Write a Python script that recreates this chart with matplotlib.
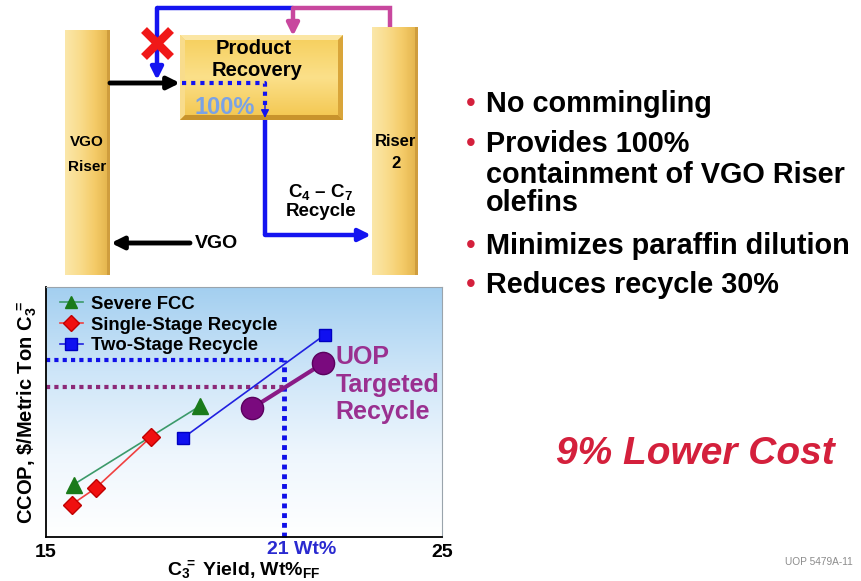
import numpy as np
import matplotlib
matplotlib.use("Agg")
import matplotlib.pyplot as plt
from matplotlib.patches import Rectangle, Polygon, FancyArrowPatch
from matplotlib.colors import LinearSegmentedColormap

plt.rcParams['font.family'] = ['Liberation Sans', 'DejaVu Sans']
plt.rcParams['mathtext.fontset'] = 'custom'
plt.rcParams['mathtext.rm'] = 'Liberation Sans:bold'
plt.rcParams['mathtext.bf'] = 'Liberation Sans:bold'
plt.rcParams['mathtext.it'] = 'Liberation Sans:bold:italic'
plt.rcParams['mathtext.sf'] = 'Liberation Sans:bold'

# ---- chart data: C3= yield (wt% FF) vs CCOP ($/metric ton C3=, arbitrary scale) ----
severe_x = [15.7, 18.9]
severe_y = [21, 52.5]
single_x = [15.65, 16.25, 17.65]
single_y = [13, 19.5, 40]
two_x = [18.45, 22.05]
two_y = [39.5, 81]
uop_x = [20.2, 22.0]
uop_y = [51.5, 69.5]
target_yield = 21
two_stage_cost_at_target = 70.8
uop_cost_at_target = 60.2
x_ticks = [15, 25]

uop_label = ["UOP", "Targeted", "Recycle"]
bullets = [["No commingling"],
           ["Provides 100%", "containment of VGO Riser", "olefins"],
           ["Minimizes paraffin dilution"],
           ["Reduces recycle 30%"]]

W, H = 862, 581
fig = plt.figure(figsize=(W / 100, H / 100), dpi=100)
fig.patch.set_facecolor("white")

# full-figure canvas in pixel coordinates for the flow scheme and slide text
ax0 = fig.add_axes([0, 0, 1, 1])
ax0.set_xlim(0, W)
ax0.set_ylim(H, 0)
ax0.axis("off")

gold = LinearSegmentedColormap.from_list("gold", ["#fbe7aa", "#f9dc8c", "#f4cb68", "#e2b24a"])


def gold_column(x0, y0, x1, y1):
    grad = np.linspace(0, 1, 64)[None, :]
    ax0.imshow(grad, cmap=gold, extent=(x0, x1, y1, y0), aspect="auto", zorder=1,
               interpolation="bilinear")
    ax0.add_patch(Rectangle((x1 - 3, y0), 3, y1 - y0, color="#cf9d3e", zorder=2, lw=0))


gold_column(65, 30, 110, 275)
gold_column(372, 27, 418, 275)

# Product Recovery box with bevelled frame
bx0, by0, bx1, by1, b = 180, 35, 343, 120, 5
grad = np.linspace(0, 1, 64)[:, None]
box_cmap = LinearSegmentedColormap.from_list("box", ["#f6cf5c", "#fbe08a", "#f3c64e"])
ax0.imshow(grad, cmap=box_cmap, extent=(bx0, bx1, by1, by0), aspect="auto", zorder=1,
           interpolation="bilinear")
ax0.add_patch(Polygon([(bx0, by0), (bx1, by0), (bx1 - b, by0 + b), (bx0 + b, by0 + b)],
                      color="#fbe6a4", lw=0, zorder=2))
ax0.add_patch(Polygon([(bx0, by0), (bx0 + b, by0 + b), (bx0 + b, by1 - b), (bx0, by1)],
                      color="#f8dc8c", lw=0, zorder=2))
ax0.add_patch(Polygon([(bx1, by0), (bx1, by1), (bx1 - b, by1 - b), (bx1 - b, by0 + b)],
                      color="#d9a53a", lw=0, zorder=2))
ax0.add_patch(Polygon([(bx0, by1), (bx1, by1), (bx1 - b, by1 - b), (bx0 + b, by1 - b)],
                      color="#c8932c", lw=0, zorder=2))

blue = "#1414f0"
pink = "#c8479e"


def arrow(pts, color, lw=3.2):
    xs, ys = zip(*pts)
    ax0.plot(xs[:-1], ys[:-1], color=color, lw=lw, zorder=3,
             solid_joinstyle="miter", solid_capstyle="butt")
    ax0.add_patch(FancyArrowPatch(pts[-2], pts[-1], arrowstyle="-|>", mutation_scale=18,
                                  color=color, lw=lw, shrinkA=0, shrinkB=0, zorder=3))


# recycle loops above the box
arrow([(293, 8), (157, 8), (157, 80)], blue)
arrow([(390, 27), (390, 8), (293, 8), (293, 36)], pink)
# red cross over the blocked route
ax0.plot([144, 171], [30, 57], color="#f01818", lw=6, solid_capstyle="butt", zorder=4)
ax0.plot([144, 171], [57, 30], color="#f01818", lw=6, solid_capstyle="butt", zorder=4)
# VGO riser effluent into product recovery
arrow([(110, 83), (180, 83)], "black", lw=3.5)
# dotted internal routing
ax0.plot([182, 265, 265], [83, 83, 106], color=blue, lw=3, ls=(0, (1, 1.2)), zorder=3)
ax0.add_patch(FancyArrowPatch((265, 104), (265, 118), arrowstyle="-|>", mutation_scale=12,
                              color=blue, lw=1, shrinkA=0, shrinkB=0, zorder=3))
ax0.text(225, 108, "100%", color="#7aa2e6", fontsize=17, fontweight="bold",
         ha="center", va="center", zorder=4)
# C4-C7 recycle to riser 2
arrow([(265, 120), (265, 235), (371, 235)], blue)
# VGO feed
arrow([(190, 243), (111, 243)], "black", lw=3.5)

ax0.text(254, 48, "Product", fontsize=14.5, fontweight="bold", ha="center", va="center", zorder=4)
ax0.text(257, 71, "Recovery", fontsize=14.5, fontweight="bold", ha="center", va="center", zorder=4)
ax0.text(87, 142, "VGO", fontsize=11, fontweight="bold", ha="center", va="center", zorder=4)
ax0.text(87, 167, "Riser", fontsize=11, fontweight="bold", ha="center", va="center", zorder=4)
ax0.text(396, 142, "Riser", fontsize=12, fontweight="bold", ha="center", va="center", zorder=4)
ax0.text(396, 164, "2", fontsize=12, fontweight="bold", ha="center", va="center", zorder=4)
ax0.text(320, 197, "C$_4$ – C$_7$", fontsize=13.5, fontweight="bold", ha="center",
         va="baseline", zorder=4)
ax0.text(321, 216, "Recycle", fontsize=13.5, fontweight="bold", ha="center", va="baseline",
         zorder=4)
ax0.text(195, 243, "VGO", fontsize=14, fontweight="bold", ha="left", va="center", zorder=4)

# bullet list
red = "#d4203c"
baselines = [[112], [152, 183, 211], [254], [293]]
for lines, ys in zip(bullets, baselines):
    ax0.text(466, ys[0] - 1, "•", color=red, fontsize=20, ha="left", va="baseline")
    for txt, yb in zip(lines, ys):
        ax0.text(486, yb, txt, fontsize=20.8, fontweight="bold", ha="left", va="baseline")

ax0.text(556, 454, "9% Lower Cost", color=red, fontsize=28, fontweight="bold",
         fontstyle="italic", ha="left", va="center")
ax0.text(853, 562, "UOP 5479A-11", color="#8c8c8c", fontsize=7.3, ha="right", va="center")

# ---- chart ----
ax = fig.add_axes([46 / W, (H - 537) / H, 396 / W, 250 / H])
ax.set_xlim(15, 25)
ax.set_ylim(0, 100)

bg = LinearSegmentedColormap.from_list("sky", ["#ffffff", "#eef6fd", "#cde5f8", "#a3cff0"])
ax.imshow(np.linspace(0, 1, 256)[:, None], cmap=bg, extent=(15, 25, 0, 100), origin="lower",
          aspect="auto", zorder=0, interpolation="bilinear")

ax.plot(severe_x, severe_y, color="#3c9a6a", lw=1.2, marker="^", ms=11,
        mfc="#1a7a1a", mec="#1a7a1a", zorder=3, label="Severe FCC")
ax.plot(single_x, single_y, color="#f04040", lw=1.2, marker="D", ms=9,
        mfc="#f01010", mec="#c00000", zorder=3, label="Single-Stage Recycle")
ax.plot(two_x, two_y, color="#2020e0", lw=1.2, marker="s", ms=8,
        mfc="#1010f0", mec="#0000c0", zorder=3, label="Two-Stage Recycle")
ax.plot(uop_x, uop_y, color="#8a1a86", lw=3, marker="o", ms=16,
        mfc="#7a0a7e", mec="#5a005e", zorder=4)

ax.plot([15, target_yield], [two_stage_cost_at_target] * 2, color="#1010e8", lw=3,
        ls=(0, (1, 1)), zorder=2)
ax.plot([15, target_yield], [uop_cost_at_target] * 2, color="#8c2a78", lw=3,
        ls=(0, (1, 1)), zorder=2)
ax.plot([target_yield] * 2, [0, two_stage_cost_at_target], color="#1010e8", lw=3.5,
        ls=(0, (1, 1)), zorder=2, clip_on=False)

for txt, yy in zip(uop_label, [72, 60.8, 50]):
    ax.text(22.32, yy, txt, color="#9a3090", fontsize=18, fontweight="bold",
            ha="left", va="center", zorder=5)

leg = ax.legend(loc="upper left", bbox_to_anchor=(0.0, 1.02), frameon=False,
                handlelength=1.25, handletextpad=0.42, labelspacing=0.2,
                borderaxespad=0.35, borderpad=0.4, prop={"weight": "bold", "size": 13.3})
for h in leg.legend_handles:
    h.set_markersize(8.5)

ax.set_xticks(x_ticks)
ax.set_xticklabels([str(t) for t in x_ticks], fontsize=14, fontweight="bold")
ax.set_yticks([])
ax.tick_params(axis="x", length=0, pad=5)
ax.text(target_yield + 0.46, -1.5, "21 Wt%", color="#2a2ad0", fontsize=14, fontweight="bold",
        ha="center", va="top")
ax.set_xlabel("C$_{3}\\!\\!{}^{=}$ Yield, Wt%$_{\\mathrm{FF}}$", fontsize=14,
              fontweight="bold", labelpad=-2)
ax.set_ylabel("CCOP, \\$/Metric Ton C$_{3}\\!\\!{}^{=}$", fontsize=14.5, fontweight="bold",
              labelpad=5)
for s in ("left", "bottom"):
    ax.spines[s].set_color("black")
    ax.spines[s].set_linewidth(1.3)
for s in ("top", "right"):
    ax.spines[s].set_color("#9aa4ac")
    ax.spines[s].set_linewidth(0.8)

fig.savefig("out.png", dpi=100)
